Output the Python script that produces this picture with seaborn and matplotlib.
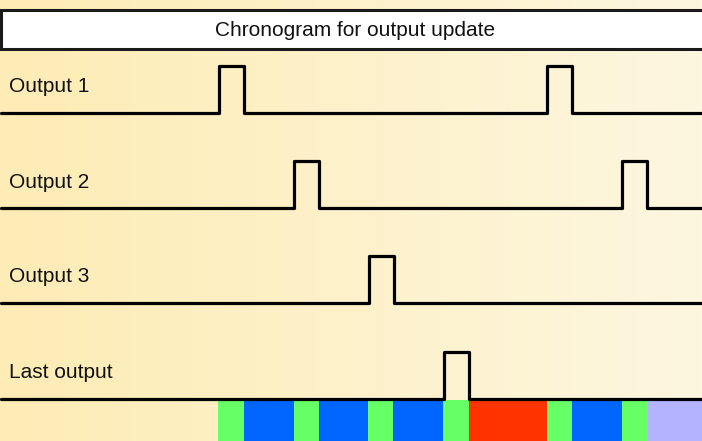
import numpy as np
import matplotlib
matplotlib.use("Agg")
import matplotlib.pyplot as plt
import seaborn as sns
from matplotlib.colors import LinearSegmentedColormap
from matplotlib.patches import Rectangle

# signals (pixel-like timeline, 0..702)
signal_names = ["Output 1", "Output 2", "Output 3", "Last output"]
pulse_starts = [[219, 547], [294, 622], [369], [444]]
pulse_width = 25
baselines = [113, 208, 303, 399]
pulse_height = 47

# bottom bar segments
seg_edges = [218, 244, 294, 319, 368, 393, 443, 469, 547, 572, 622, 648, 702]
seg_colors = ["#66FF66", "#0066FF", "#66FF66", "#0066FF", "#66FF66", "#0066FF",
              "#66FF66", "#FF3300", "#66FF66", "#0066FF", "#66FF66", "#B3B3FF"]

title = "Chronogram for output update"

sns.set_theme(style="white")
plt.rcParams['font.family'] = ['Liberation Sans', 'DejaVu Sans']

fig = plt.figure(figsize=(7.02, 4.41), dpi=100)
ax = fig.add_axes([0, 0, 1, 1])
ax.set_xlim(0, 702)
ax.set_ylim(441, 0)
ax.axis("off")

# background gradient
cmap = LinearSegmentedColormap.from_list("bg", ["#FDECB5", "#FEF7E0"])
grad = np.linspace(0, 1, 256).reshape(1, -1)
ax.imshow(grad, cmap=cmap, aspect="auto", extent=[0, 702, 441, 0], zorder=0)

# title box
ax.add_patch(Rectangle((1, 9.5), 710, 39.5, facecolor="white", edgecolor="#1a1a1a",
                       lw=2.2, zorder=3))
ax.text(355, 31, title, ha="center", va="center", fontsize=15, color="#111111", zorder=4)

# bottom bar
for i, c in enumerate(seg_colors):
    ax.add_patch(Rectangle((seg_edges[i], 400), seg_edges[i + 1] - seg_edges[i], 41,
                           facecolor=c, edgecolor="none", zorder=2))

# signals
for name, starts, base in zip(signal_names, pulse_starts, baselines):
    xs = [1]
    ys = [base]
    for s in starts:
        xs += [s, s + pulse_width]
        ys += [base - pulse_height, base]
    xs.append(702)
    ys.append(base)
    sns.lineplot(x=xs, y=ys, ax=ax, color="black", lw=2.3, drawstyle="steps-post",
                 sort=False, estimator=None, zorder=5)
    ax.text(9, base - 26, name, ha="left", va="center", fontsize=15, color="#111111")

fig.savefig("out.png", dpi=100)
